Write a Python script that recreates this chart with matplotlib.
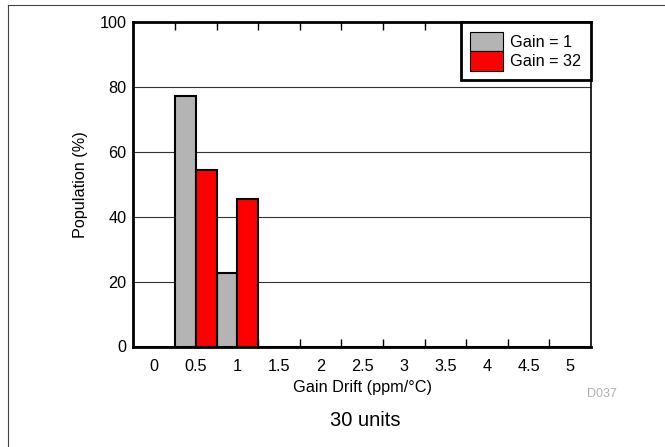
import numpy as np
import matplotlib.pyplot as plt
from matplotlib.ticker import FixedLocator, NullFormatter

plt.rcParams['font.family'] = ['Liberation Sans', 'DejaVu Sans']

# histogram bins (ppm/°C) and population in %
bins = [0, 0.5, 1, 1.5, 2, 2.5, 3, 3.5, 4, 4.5, 5]
gain1 = [0, 77.3, 22.7, 0, 0, 0, 0, 0, 0, 0, 0]
gain32 = [0, 54.5, 45.5, 0, 0, 0, 0, 0, 0, 0, 0]
tick_labels = ['0', '0.5', '1', '1.5', '2', '2.5', '3', '3.5', '4', '4.5', '5']

fs = 11.7

fig = plt.figure(figsize=(6.65, 4.47), dpi=100)
ax = fig.add_axes([133.3 / 665, 1 - 346.5 / 447, (591 - 133.3) / 665, (346.5 - 22.3) / 447])

w = 0.25
x = np.array(bins)
ax.bar(x - w, gain1, width=w, align='edge', color='#b4b4b4', edgecolor='black', linewidth=1.5,
       label='Gain = 1', zorder=3)
ax.bar(x, gain32, width=w, align='edge', color='#ff0000', edgecolor='black', linewidth=1.5,
       label='Gain = 32', zorder=3)

ax.set_xlim(-0.25, 5.25)
ax.set_ylim(0, 100)
ax.set_xticks(bins)
ax.set_xticklabels(tick_labels)
ax.xaxis.set_minor_locator(FixedLocator([b + 0.25 for b in bins[:-1]]))
ax.xaxis.set_minor_formatter(NullFormatter())
ax.tick_params(axis='x', which='major', length=0, labelsize=fs, pad=9)
ax.tick_params(axis='x', which='minor', direction='in', length=6, width=1, top=True, bottom=True)
ax.set_yticks([0, 20, 40, 60, 80, 100])
ax.tick_params(axis='y', length=0, labelsize=fs, pad=5)
ax.grid(axis='y', color='#333333', linewidth=0.8, zorder=0)

for s in ['left', 'bottom', 'top']:
    ax.spines[s].set_linewidth(2)
ax.spines['right'].set_linewidth(1.2)

ax.set_xlabel('Gain Drift (ppm/°C)', fontsize=fs, labelpad=4)
ax.set_ylabel('Population (%)', fontsize=fs, labelpad=8)

leg = ax.legend(loc='upper right', fontsize=fs, frameon=True, fancybox=False, borderaxespad=0,
                handlelength=2.0, handleheight=1.45, handletextpad=0.45, labelspacing=0,
                borderpad=0.6)
leg.get_frame().set_edgecolor('black')
leg.get_frame().set_linewidth(2)
leg.get_frame().set_alpha(1)
for p in leg.get_patches():
    p.set_linewidth(0.8)

fig.text(602 / 665, 1 - 394 / 447, 'D037', fontsize=9, color='#b0b0b0', ha='center', va='center')
fig.text(365 / 665, 1 - 420 / 447, '30 units', fontsize=14.5, ha='center', va='center')

# outer frame lines (left and top)
fig.add_artist(plt.Line2D([8 / 665, 8 / 665], [0, 1 - 5 / 447], color='#444444', linewidth=0.8))
fig.add_artist(plt.Line2D([8 / 665, 1], [1 - 5 / 447, 1 - 5 / 447], color='#444444', linewidth=0.8))

fig.savefig('out.png', dpi=100)
